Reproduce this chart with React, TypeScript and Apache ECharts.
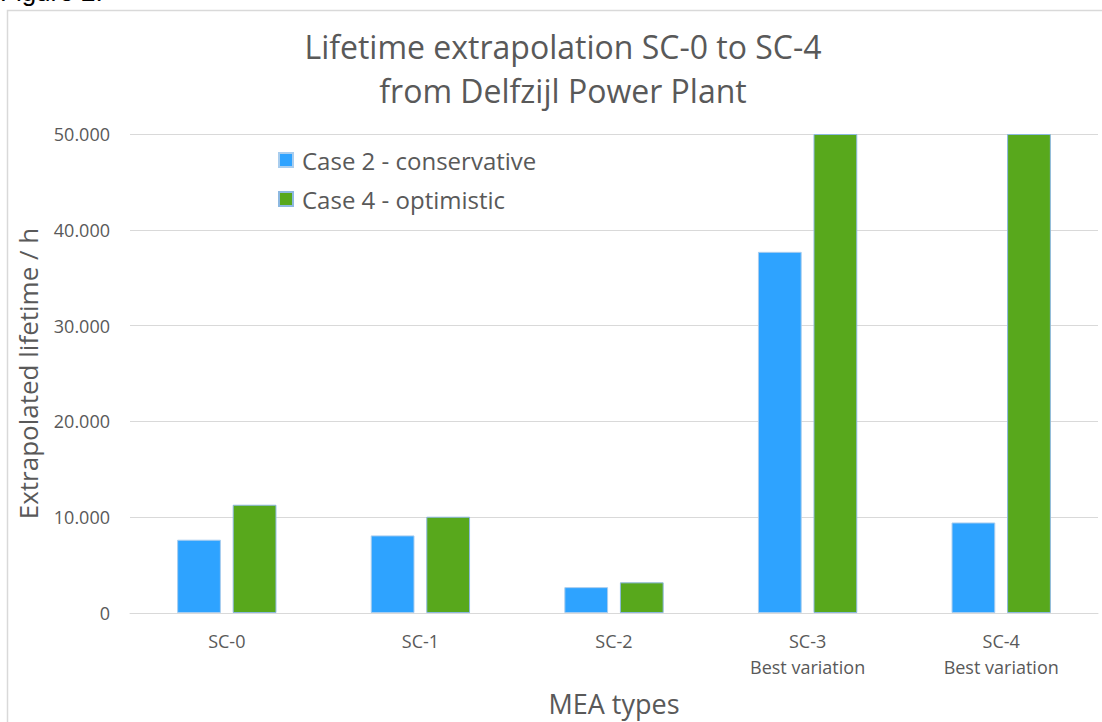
import React, { useEffect, useRef } from "react";
import * as echarts from "echarts";

const categories = ["SC-0", "SC-1", "SC-2", "SC-3\nBest variation", "SC-4\nBest variation"];
const conservative = [7650, 8100, 2700, 37700, 9450];
const optimistic = [11300, 10050, 3200, 50000, 50000];
const yTicks = { min: 0, max: 50000, interval: 10000 };

const FONT = "'Open Sans', 'Noto Sans', sans-serif";
const TXT = "#595959";

function fmt(v: number): string {
  return String(v).replace(/\B(?=(\d{3})+(?!\d))/g, ".");
}

export default function App() {
  const ref = useRef<HTMLDivElement>(null);
  useEffect(() => {
    if (!ref.current) return;
    const chart = echarts.init(ref.current, undefined, { renderer: "svg" });
    chart.setOption({
      animation: false,
      backgroundColor: "#ffffff",
      textStyle: { fontFamily: FONT },
      graphic: [
        {
          type: "rect",
          shape: { x: 7.5, y: 10.5, width: 1100, height: 720 },
          style: { fill: "none", stroke: "#d9d9d9", lineWidth: 1.5 },
          silent: true,
        },
        {
          type: "text",
          x: 0,
          y: -21,
          style: { text: "Figure 2.", font: "26px 'Liberation Sans', Arial, sans-serif", fill: "#000" },
        },
        {
          type: "text",
          x: 563,
          y: 24,
          style: {
            text: "Lifetime extrapolation SC-0 to SC-4\nfrom Delfzijl Power Plant",
            font: `32px ${FONT}`,
            fill: TXT,
            align: "center",
            lineHeight: 44,
          },
        },
      ],
      legend: {
        orient: "vertical",
        left: 273,
        top: 143,
        itemWidth: 14,
        itemHeight: 14,
        itemGap: 15,
        icon: "rect",
        textStyle: { fontSize: 24, color: TXT, fontFamily: FONT, lineHeight: 24, padding: [0, 0, 0, 4] },
        data: ["Case 2 - conservative", "Case 4 - optimistic"],
      },
      grid: { left: 130, right: 4, top: 134, bottom: 100, containLabel: false },
      xAxis: {
        type: "category",
        data: categories,
        axisTick: { show: false },
        axisLine: { lineStyle: { color: "#d9d9d9", width: 1 } },
        axisLabel: { color: TXT, fontSize: 18, margin: 15, lineHeight: 26, fontFamily: FONT },
        name: "MEA types",
        nameLocation: "middle",
        nameGap: 77,
        nameTextStyle: { fontSize: 27, color: TXT, fontFamily: FONT },
      },
      yAxis: {
        type: "value",
        min: yTicks.min,
        max: yTicks.max,
        interval: yTicks.interval,
        axisLine: { show: false },
        axisTick: { show: false },
        splitLine: { lineStyle: { color: "#d9d9d9", width: 1 } },
        axisLabel: { color: TXT, fontSize: 18, margin: 20, fontFamily: FONT, formatter: (v: number) => fmt(v) },
        name: "Extrapolated lifetime / h",
        nameLocation: "middle",
        nameGap: 89,
        nameRotate: 90,
        nameTextStyle: { fontSize: 26, color: TXT, fontFamily: FONT },
      },
      series: [
        {
          name: "Case 2 - conservative",
          type: "bar",
          data: conservative,
          barWidth: "22.6%",
          barGap: "27%",
          clip: true,
          itemStyle: { color: "#2ea3ff", borderColor: "#a9cdee", borderWidth: 1 },
        },
        {
          name: "Case 4 - optimistic",
          type: "bar",
          data: optimistic,
          barWidth: "22.6%",
          clip: true,
          itemStyle: { color: "#58a81c", borderColor: "#8db8e0", borderWidth: 1 },
        },
      ],
    });
    return () => chart.dispose();
  }, []);
  return <div ref={ref} style={{ position: "fixed", left: 0, top: 0, width: 1102, height: 722 }} />;
}
